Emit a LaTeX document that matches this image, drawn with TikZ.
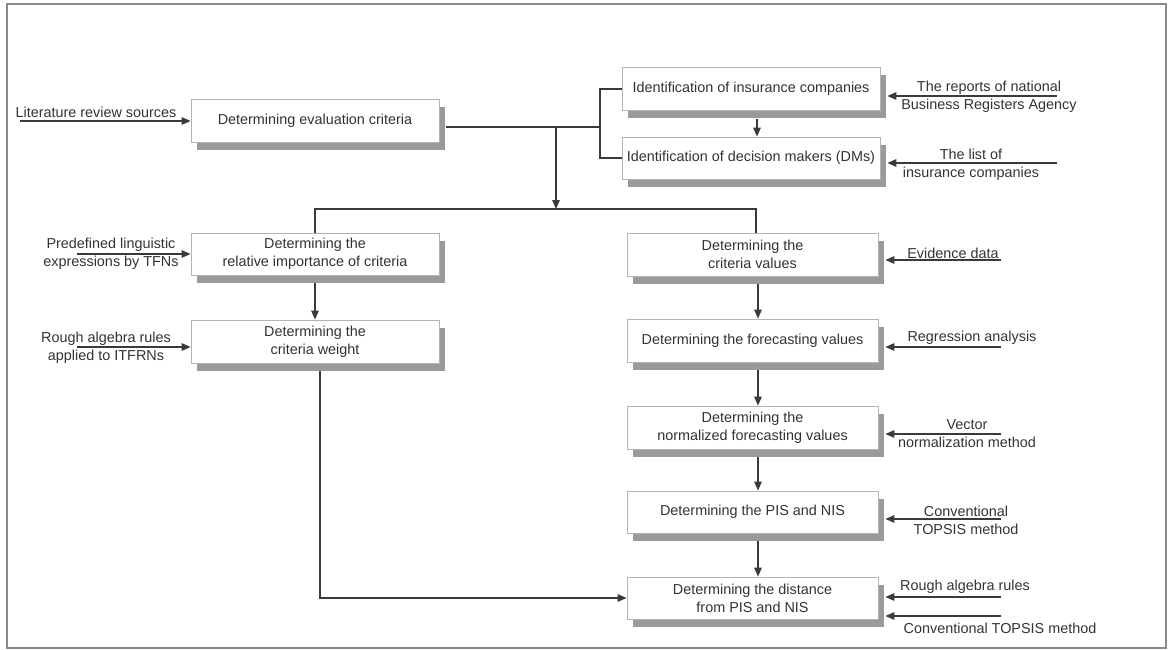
\documentclass[tikz,border=0pt]{standalone}
\usepackage{fontspec}
\setmainfont{Liberation Sans}
\usetikzlibrary{arrows.meta,shadows,calc}
\definecolor{txt}{HTML}{333333}
\definecolor{ln}{HTML}{3A3A3A}
\definecolor{shd}{HTML}{9A9A9A}
\definecolor{bd}{HTML}{B4B4B4}
\definecolor{frm}{HTML}{8A8A8A}
\begin{document}
\begin{tikzpicture}[x=1pt,y=-1pt,
 font=\fontsize{14.4}{18}\selectfont, text=txt,
 box/.style={draw=bd, line width=0.8pt, fill=white, align=center, inner sep=0pt,
   drop shadow={shadow xshift=6pt, shadow yshift=-8pt, fill=shd, opacity=1}},
 lbox/.style={box, minimum width=248pt, minimum height=43pt},
 rbox/.style={box, minimum width=251pt, minimum height=43pt},
 tbox/.style={box, minimum width=258pt, minimum height=43pt},
 conn/.style={draw=ln, line width=1.3pt},
 arr/.style={conn, -{Triangle[length=9pt,width=7.5pt]}},
 lab/.style={align=center, inner sep=0pt}]
\useasboundingbox (0,0) rectangle (1173,650);
\draw[frm, line width=2pt] (7,4) rectangle (1166,648);

% boxes
\node[lbox] (b1) at (315,120.5) {Determining evaluation criteria};
\node[tbox] (b2) at (751,89) {Identification of insurance companies};
\node[tbox, minimum height=42pt] (b3) at (751,158) {Identification of decision makers (DMs)};
\node[lbox, minimum height=42pt] (b4) at (315,254) {Determining the\\relative importance of criteria};
\node[lbox] (b5) at (315,341.5) {Determining the\\criteria weight};
\node[rbox] (b6) at (752.5,254.5) {Determining the\\criteria values};
\node[rbox] (b7) at (752.5,340.5) {Determining the forecasting values};
\node[rbox] (b8) at (752.5,427.5) {Determining the\\normalized forecasting values};
\node[rbox, minimum height=42pt] (b9) at (752.5,512) {Determining the PIS and NIS};
\node[rbox, minimum height=42pt] (b10) at (752.5,598) {Determining the distance\\from PIS and NIS};

% junctions
\coordinate (j1) at (600,127);
\coordinate (jd) at (556,127);
\coordinate (j2) at (556,209);

\draw[conn] ($(b1.east |- j1)+(7,0)$) -- (j1);
\draw[conn] (b2.west) -| (j1) |- (b3.west);
\draw[arr] (jd) -- (j2);
\draw[conn] (b4.north) |- (j2) -| ($(b6.north)+(3.5,0)$);
\draw[arr] ($(b2.south)+(6,8)$) -- ($(b3.north)+(6,0)$);
\draw[arr] (b4.south) ++(0,8) -- (b5.north);
\draw[arr] ($(b6.south)+(5.5,8)$) -- ($(b7.north)+(5.5,0)$);
\draw[arr] ($(b7.south)+(5.5,8)$) -- ($(b8.north)+(5.5,0)$);
\draw[arr] ($(b8.south)+(5.5,8)$) -- ($(b9.north)+(5.5,0)$);
\draw[arr] ($(b9.south)+(5.5,8)$) -- ($(b10.north)+(5.5,0)$);
\draw[arr] ($(b5.south)+(5,8)$) |- (b10.west);

% left inputs
\node[lab] (l1) at (96,112) {Literature review sources};
\coordinate (l1s) at (20,121);
\draw[arr] (l1s) -- (b1.west |- l1s);
\node[lab] (l2) at (111,254) {Predefined linguistic\\expressions by TFNs};
\coordinate (l2s) at (77,254);
\draw[arr] (l2s) -- (b4.west |- l2s);
\node[lab] (l3) at (106,348) {Rough algebra rules\\applied to ITFRNs};
\coordinate (l3s) at (77,347);
\draw[arr] (l3s) -- (b5.west |- l3s);

% right inputs
\node[lab] (r1) at (989,97) {The reports of national\\Business Registers Agency};
\coordinate (r1s) at (1057,96);
\draw[arr] (r1s) -- ($(b2.east |- r1s)+(7,0)$);
\node[lab] (r2) at (971,165) {The list of\\insurance companies};
\coordinate (r2s) at (1057,163);
\draw[arr] (r2s) -- ($(b3.east |- r2s)+(7,0)$);
\node[lab] (r3) at (953,253) {Evidence data};
\coordinate (r3s) at (1001,260);
\draw[arr] (r3s) -- ($(b6.east |- r3s)+(7,0)$);
\node[lab] (r4) at (972,338) {Regression analysis};
\coordinate (r4s) at (1001,347);
\draw[arr] (r4s) -- ($(b7.east |- r4s)+(7,0)$);
\node[lab] (r5) at (967,434) {Vector\\normalization method};
\coordinate (r5s) at (1001,434);
\draw[arr] (r5s) -- ($(b8.east |- r5s)+(7,0)$);
\node[lab] (r6) at (966,520) {Conventional\\TOPSIS method};
\coordinate (r6s) at (1001,519);
\draw[arr] (r6s) -- ($(b9.east |- r6s)+(7,0)$);
\node[lab] (r7) at (965,587) {Rough algebra rules};
\coordinate (r7s) at (1001,597);
\draw[arr] (r7s) -- ($(b10.east |- r7s)+(7,0)$);
\node[lab] (r8) at (1000,628) {Conventional TOPSIS method};
\coordinate (r8s) at (1001,616);
\draw[arr] (r8s) -- ($(b10.east |- r8s)+(7,0)$);
\end{tikzpicture}
\end{document}
